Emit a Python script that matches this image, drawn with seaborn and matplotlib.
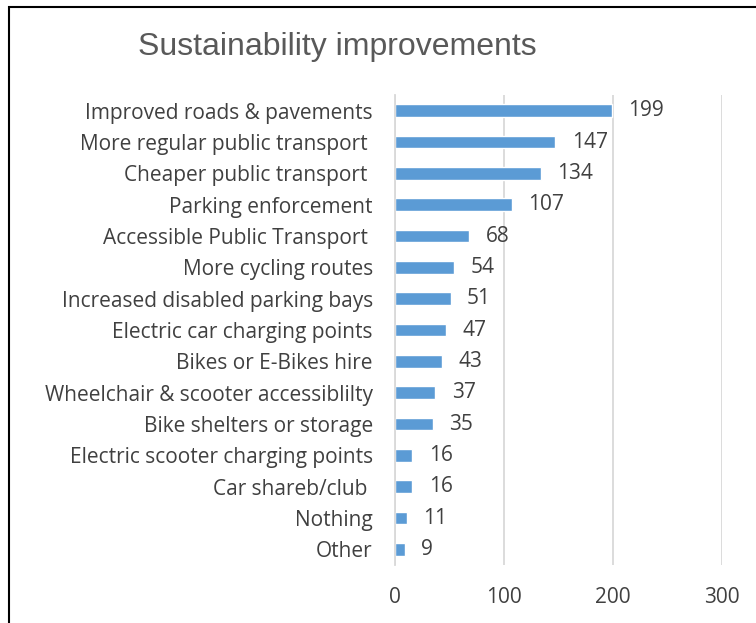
import pandas as pd
import seaborn as sns
import matplotlib.pyplot as plt
from matplotlib.patches import Rectangle

categories = [
    "Improved roads & pavements",
    "More regular public transport ",
    "Cheaper public transport ",
    "Parking enforcement",
    "Accessible Public Transport ",
    "More cycling routes",
    "Increased disabled parking bays",
    "Electric car charging points",
    "Bikes or E-Bikes hire",
    "Wheelchair & scooter accessiblilty",
    "Bike shelters or storage",
    "Electric scooter charging points",
    "Car shareb/club ",
    "Nothing",
    "Other",
]
counts = [199, 147, 134, 107, 68, 54, 51, 47, 43, 37, 35, 16, 16, 11, 9]
x_ticks = [0, 100, 200, 300]

df = pd.DataFrame({"improvement": categories, "count": counts})

sns.set_theme(style="white")
plt.rcParams["font.family"] = ["Open Sans", "DejaVu Sans"]

fig = plt.figure(figsize=(7.56, 6.23), dpi=100)
ax = fig.add_axes([395 / 756, 1 - 565 / 623, (722 - 395) / 756, (565 - 95) / 623])

sns.barplot(data=df, x="count", y="improvement", color="#5B9BD5",
            width=0.4, saturation=1, ax=ax)

for i, v in enumerate(counts):
    ax.text(v + 15, i, str(v), va="center", ha="left",
            fontsize=15, color="#404040")

ax.set_xlim(0, 300)
ax.set_xticks(x_ticks)
ax.xaxis.grid(True, color="#D9D9D9", linewidth=1.3)
ax.set_axisbelow(True)
for s in ["top", "right", "bottom"]:
    ax.spines[s].set_visible(False)
ax.spines["left"].set_color("#D9D9D9")
ax.spines["left"].set_linewidth(1.3)
ax.tick_params(axis="both", length=0, labelsize=15, colors="#404040")
ax.tick_params(axis="y", pad=16)
ax.tick_params(axis="x", pad=16)
ax.set_xlabel("")
ax.set_ylabel("")

fig.text(337 / 756, 1 - 47 / 623, "Sustainability improvements",
         ha="center", va="center", fontsize=23, color="#595959",
         family="Liberation Sans")

fig.patches.append(Rectangle((9 / 756, -0.1), 1.2, 1 - 7 / 623 + 0.1,
                             transform=fig.transFigure, fill=False,
                             edgecolor="black", linewidth=1.5))

fig.savefig("out.png", dpi=100)
